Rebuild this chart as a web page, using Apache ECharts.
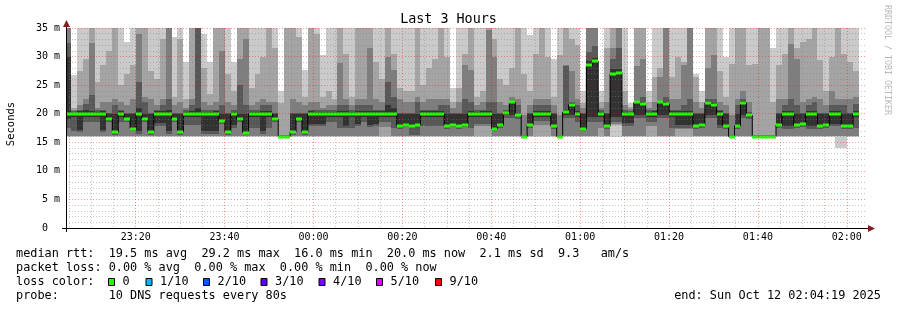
<!DOCTYPE html>
<html>
<head>
<meta charset="utf-8">
<script src="https://cdn.jsdelivr.net/npm/echarts@6/dist/echarts.min.js"></script>
<style>
html, body { margin: 0; padding: 0; background: #fff; }
#main { width: 897px; height: 310px; }
</style>
</head>
<body>
<div id="main"></div>
<script>
// time is in seconds after 23:00:00, one sample every 80 s
var tMin = 259, tMax = 11059;
var firstEnd = 324, step = 80;

var majorTicks = [1200, 2400, 3600, 4800, 6000, 7200, 8400, 9600, 10800];
var minorTicks = [300, 600, 900, 1500, 1800, 2100, 2700, 3000, 3300, 3900, 4200, 4500,
	5100, 5400, 5700, 6300, 6600, 6900, 7500, 7800, 8100, 8700, 9000, 9300, 9900, 10200, 10500];

var median = [20, 20, 20, 20, 20, 20, 20, 19.0, 16.8, 20,
	19.1, 17.4, 20, 19.0, 16.8, 20, 20, 20, 19.1, 16.8,
	20, 20, 20, 20, 20, 20, 18.7, 16.8, 20, 19.0,
	16.7, 20, 20, 20, 20, 19.0, 16.0, 16.0, 16.8, 19.1,
	16.8, 20, 20, 20, 20, 20, 20, 20, 20, 20,
	20, 20, 20, 20, 20, 20, 17.8, 18.1, 17.9, 18.1,
	20, 20, 20, 20, 17.9, 18.1, 17.8, 18.1, 20, 20,
	20, 20, 17.4, 18.0, 20.1, 22.0, 19.8, 16.0, 18.0, 20,
	20, 20, 17.8, 16.0, 20.3, 21.6, 20, 17.4, 28.5, 29.2,
	20, 17.8, 27.0, 27.2, 20, 20, 22.0, 21.7, 20, 20,
	22.0, 21.7, 20, 20, 20, 20, 17.8, 18.0, 21.9, 21.6,
	20, 17.9, 16.0, 17.9, 21.9, 19.7, 16.0, 16.0, 16.0, 16.0,
	18.0, 20, 20, 18.0, 18.2, 20, 20, 17.8, 18.0, 20,
	20, 17.9, 17.9, 20];

// sorted pings of each sample, p1 lowest ... p10 highest
var p1 = [16, 16, 16, 16, 16, 16, 16, 16, 16, 16,
	16, 16, 16, 16, 16, 16, 16, 16, 16, 16,
	16, 16, 16, 16, 16, 16, 16, 16, 16, 16,
	16, 16, 16, 16, 16, 16, 15.8, 15.8, 16, 16,
	16, 16, 16, 16, 16, 16, 16, 16, 16, 16,
	16, 16, 16, 16, 16, 16, 16, 16, 16, 16,
	16, 16, 16, 16, 16, 16, 16, 16, 16, 16,
	16, 16, 16, 16, 16, 16, 16, 15.8, 16, 16,
	16, 16, 16, 15.8, 16, 16, 16, 16, 16, 16,
	16, 16, 16, 16, 16, 16, 16, 16, 16, 16,
	16, 16, 16, 16, 16, 16, 16, 16, 16, 16,
	16, 16, 15.8, 16, 16, 16, 15.8, 15.8, 15.8, 15.8,
	16, 16, 16, 16, 16, 16, 16, 16, 16, 16,
	14.0, 14.0, 16, 16];

var p2 = [16.05, 16.05, 16.05, 16.05, 16.05, 16.05, 16.05, 16.05, 16.05, 16.05,
	16.05, 16.05, 16.05, 16.05, 16.05, 16.05, 16.05, 16.05, 16.05, 16.05,
	16.05, 16.05, 16.05, 16.05, 16.05, 16.05, 16.05, 16.05, 16.05, 16.05,
	16.05, 16.05, 16.05, 16.05, 16.05, 16.05, 15.85, 15.85, 16.05, 16.05,
	16.05, 16.05, 16.05, 16.05, 16.05, 16.05, 16.05, 16.05, 16.05, 16.05,
	16.05, 16.05, 16.05, 16.05, 16.05, 16.05, 16.05, 16.05, 16.05, 16.05,
	16.05, 16.05, 16.05, 16.05, 16.05, 16.05, 16.05, 16.05, 16.05, 16.05,
	16.05, 16.05, 16.05, 16.05, 16.05, 16.05, 16.05, 15.85, 16.05, 16.05,
	16.05, 16.05, 16.05, 15.85, 16.05, 16.05, 16.05, 16.05, 16.05, 16.05,
	16.05, 16.05, 18.0, 18.0, 16.05, 16.05, 16.05, 16.05, 16.05, 16.05,
	16.05, 16.05, 16.05, 16.05, 16.05, 16.05, 16.05, 16.05, 16.05, 16.05,
	16.05, 16.05, 15.85, 16.05, 16.05, 16.05, 15.85, 15.85, 15.85, 15.85,
	16.05, 16.05, 16.05, 16.05, 16.05, 16.05, 16.05, 16.05, 16.05, 16.05,
	16.05, 16.05, 16.05, 16.05];

var p3 = [16.1, 16.1, 16.1, 16.1, 16.1, 16.1, 16.1, 16.1, 16.1, 16.1,
	16.1, 16.1, 16.1, 16.1, 16.1, 16.1, 16.1, 16.1, 16.1, 16.1,
	16.1, 16.1, 16.1, 16.1, 16.1, 16.1, 16.1, 16.1, 16.1, 16.1,
	16.1, 16.1, 16.1, 16.1, 16.1, 16.1, 15.9, 15.9, 16.1, 16.1,
	16.1, 16.1, 16.1, 16.1, 16.1, 16.1, 16.1, 16.1, 16.1, 16.1,
	16.1, 16.1, 16.1, 17.6, 17.6, 16.1, 16.1, 16.1, 16.1, 16.1,
	16.1, 16.1, 16.1, 16.1, 16.1, 16.1, 16.1, 16.1, 16.1, 17.9,
	17.9, 17.9, 16.1, 16.1, 16.1, 16.1, 16.1, 15.9, 16.1, 18.1,
	18.1, 18.1, 16.1, 15.9, 16.1, 16.1, 16.1, 16.1, 16.1, 16.1,
	17.5, 16.1, 18.2, 18.2, 16.1, 16.1, 16.1, 16.1, 17.8, 17.8,
	16.1, 16.1, 16.1, 17.3, 17.3, 17.3, 16.1, 16.1, 16.1, 16.1,
	16.1, 16.1, 15.9, 16.1, 16.1, 16.1, 15.9, 15.9, 15.9, 15.9,
	16.1, 16.1, 16.1, 16.1, 16.1, 16.1, 16.1, 16.1, 16.1, 16.1,
	16.1, 16.1, 16.1, 16.1];

var p4 = [17.5, 17.0, 16.8, 18.6, 18.6, 18.6, 16.8, 18.5, 16.3, 18.6,
	18.6, 16.9, 16.5, 18.5, 16.3, 17.8, 17.8, 16.5, 18.6, 16.3,
	18.0, 18.0, 18.0, 16.5, 16.5, 16.5, 18.2, 16.3, 17.5, 18.5,
	16.2, 17.5, 17.5, 16.5, 17.5, 18.5, 15.95, 15.95, 16.3, 18.6,
	16.3, 17.8, 17.8, 17.8, 18.6, 18.6, 17.5, 17.5, 17.5, 17.8,
	18.6, 17.6, 17.8, 18.6, 18.6, 17.5, 17.3, 17.6, 16.2, 16.2,
	17.8, 17.8, 17.8, 17.8, 17.4, 17.6, 17.3, 17.6, 17.5, 18.2,
	18.2, 18.2, 16.9, 17.5, 19.2, 19.2, 19.0, 15.95, 17.5, 18.8,
	18.8, 18.8, 17.3, 15.95, 19.2, 19.2, 18.6, 16.9, 18.5, 18.5,
	18.6, 17.3, 18.5, 18.5, 17.8, 17.8, 19.2, 19.2, 18.6, 18.6,
	19.2, 19.2, 17.5, 17.5, 17.5, 17.5, 17.3, 17.5, 19.2, 19.2,
	17.5, 17.4, 15.95, 17.4, 19.2, 19.0, 15.95, 15.95, 15.95, 15.95,
	17.5, 17.3, 17.3, 17.5, 17.7, 17.3, 17.3, 17.3, 17.5, 17.8,
	17.8, 17.4, 17.4, 17.5];

var p5 = [19.0, 19.4, 17.2, 19.4, 19.4, 19.4, 17.2, 18.8, 16.6, 19.4,
	18.9, 17.2, 16.9, 18.8, 16.6, 18.3, 18.3, 16.9, 18.9, 16.6,
	19.4, 19.4, 19.4, 16.9, 16.9, 16.9, 18.5, 16.6, 18.0, 18.8,
	16.5, 19.4, 19.4, 16.9, 19.4, 18.8, 16.0, 16.0, 16.6, 18.9,
	16.6, 18.2, 18.2, 18.2, 19.4, 19.4, 19.4, 17.9, 19.4, 18.2,
	19.4, 18.0, 18.2, 19.4, 19.4, 19.4, 17.6, 17.9, 17.7, 17.9,
	19.4, 19.4, 19.4, 19.4, 17.7, 17.9, 17.6, 17.9, 19.4, 19.4,
	19.4, 19.4, 17.2, 17.8, 19.8, 19.8, 19.6, 16.0, 17.8, 19.4,
	19.4, 19.4, 17.6, 16.0, 19.8, 19.8, 19.4, 17.2, 19.5, 19.5,
	19.4, 17.6, 19.5, 19.5, 18.3, 18.3, 19.8, 19.8, 19.4, 19.4,
	19.8, 19.8, 19.4, 18.0, 18.0, 18.0, 17.6, 17.8, 19.8, 19.8,
	18.0, 17.7, 16.0, 17.7, 19.8, 19.5, 16.0, 16.0, 16.0, 16.0,
	17.8, 17.8, 17.8, 17.8, 18.0, 17.8, 17.8, 17.6, 17.8, 18.2,
	18.2, 17.7, 17.7, 19.4];

var p6 = [30, 20.2, 20.4, 20.6, 20.5, 20.3, 20.4, 19.9, 19.9, 20.4,
	19.9, 19.9, 21.0, 19.9, 19.9, 20.4, 20.5, 20.6, 19.9, 19.9,
	20.3, 20.4, 21.0, 20.3, 20.3, 20.4, 19.9, 19.9, 20.3, 19.9,
	19.9, 20.3, 20.3, 20.5, 20.5, 19.9, 16.1, 16.1, 19.9, 19.9,
	19.9, 20.4, 20.3, 20.3, 20.3, 20.3, 20.5, 20.4, 20.3, 20.4,
	20.4, 20.5, 20.4, 20.4, 21.5, 21.0, 19.9, 19.9, 19.9, 19.9,
	20.4, 20.4, 20.4, 20.4, 19.9, 19.9, 19.9, 19.9, 20.5, 20.3,
	20.4, 20.5, 19.9, 19.9, 20.3, 22.1, 20.0, 16.1, 19.9, 20.4,
	20.4, 20.4, 19.9, 16.1, 20.6, 21.8, 20.4, 19.9, 29.3, 29.8,
	20.3, 19.9, 27.8, 27.8, 20.3, 20.2, 22.1, 21.8, 20.3, 20.4,
	22.1, 21.8, 20.4, 20.4, 20.4, 20.5, 19.9, 19.9, 22.2, 21.9,
	20.4, 19.9, 16.1, 19.9, 22.2, 20.0, 16.1, 16.1, 16.1, 16.1,
	19.9, 20.4, 20.5, 19.9, 19.9, 20.4, 20.4, 19.9, 19.9, 20.4,
	20.4, 19.9, 19.9, 20.4];

var p7 = [32.4, 20.5, 20.7, 21.7, 23.2, 20.6, 20.7, 20.2, 21.5, 20.7,
	20.2, 20.2, 25.5, 22.0, 20.2, 20.7, 21.5, 22.5, 20.2, 20.2,
	20.6, 21.5, 40, 20.6, 20.6, 20.7, 21.5, 20.2, 20.6, 25.0,
	21.5, 20.6, 20.6, 21.5, 21.5, 20.2, 16.2, 16.2, 20.2, 20.2,
	20.2, 20.7, 20.6, 20.6, 20.6, 20.6, 21.5, 21.5, 20.6, 21.5,
	21.5, 21.5, 20.7, 20.7, 25.5, 23.0, 20.2, 20.2, 20.2, 22.0,
	20.7, 20.7, 20.7, 21.5, 21.5, 20.2, 20.2, 22.5, 22.0, 20.6,
	20.7, 22.0, 22.0, 20.2, 20.6, 22.2, 21.5, 16.2, 20.2, 21.5,
	21.5, 21.5, 20.2, 16.2, 28.4, 22.0, 21.5, 20.2, 30.8, 31.8,
	20.6, 20.2, 29.5, 31.5, 20.6, 20.5, 22.3, 23.0, 20.6, 20.7,
	22.3, 23.0, 20.7, 20.7, 21.5, 22.5, 20.2, 20.2, 22.5, 22.5,
	20.7, 20.2, 16.2, 21.5, 22.5, 20.3, 16.2, 16.2, 16.2, 16.2,
	20.2, 21.5, 22.5, 21.5, 20.2, 21.5, 22.0, 20.2, 20.2, 21.5,
	21.5, 21.5, 20.2, 21.7];

var p8 = [40, 20.7, 21.5, 22.5, 32.4, 21.0, 22.0, 22.0, 22.5, 22.0,
	21.5, 22.5, 34.0, 23.0, 22.5, 21.5, 22.5, 40, 21.5, 22.0,
	21.0, 22.5, 40, 22.0, 21.5, 22.0, 31.0, 22.0, 21.5, 29.5,
	33.0, 21.5, 22.0, 22.5, 22.0, 22.0, 16.3, 16.3, 22.5, 22.0,
	21.5, 22.0, 22.0, 21.0, 21.5, 21.5, 28.8, 22.5, 21.5, 22.5,
	22.5, 31.5, 22.5, 22.0, 30.0, 27.6, 22.5, 22.0, 22.0, 23.0,
	22.0, 22.5, 22.5, 22.5, 22.5, 21.0, 22.0, 28.5, 27.6, 21.5,
	22.0, 34.6, 30.0, 22.0, 21.5, 23.0, 22.5, 19.8, 21.5, 22.5,
	22.5, 22.5, 21.5, 19.8, 28.6, 27.4, 22.5, 21.0, 40, 40,
	21.0, 22.0, 31.5, 40, 21.5, 20.8, 28.3, 29.5, 21.0, 22.0,
	26.5, 40, 22.5, 22.5, 28.5, 40, 22.0, 21.0, 28.0, 30.3,
	22.0, 21.5, 19.8, 22.5, 24.0, 22.0, 16.3, 16.3, 16.3, 16.3,
	22.5, 22.5, 32.2, 29.5, 22.0, 22.5, 23.0, 22.5, 21.5, 23.9,
	22.5, 22.5, 22.5, 23.0];

var p9 = [40, 21.0, 27.5, 29.5, 40, 25.5, 28.5, 31.0, 38, 25.0,
	27.0, 28.5, 40, 40, 27.5, 26.0, 33.0, 40, 23.0, 33.0,
	22.5, 40, 40, 28.0, 23.5, 40, 40, 27.0, 24.0, 40,
	40, 24.5, 27.0, 30.0, 40, 31.5, 21.8, 40, 40, 33.5,
	23.0, 40, 34.0, 23.0, 24.0, 22.5, 40, 30.5, 23.0, 40,
	40, 40, 29.0, 26.0, 40, 30.5, 24.5, 24.0, 24.0, 40,
	25.0, 28.0, 29.5, 40, 30.0, 22.0, 24.5, 30.5, 40, 23.0,
	24.0, 40, 33.0, 26.0, 25.0, 28.0, 40, 27.0, 24.0, 30.5,
	40, 30.0, 23.0, 30.3, 40, 33.0, 32.0, 21.8, 40, 40,
	22.0, 31.5, 40, 40, 24.0, 21.2, 40, 40, 22.0, 26.5,
	28.0, 40, 26.5, 30.0, 29.0, 40, 26.5, 22.0, 40, 40,
	27.5, 23.0, 28.7, 40, 40, 28.5, 28.7, 40, 40, 22.0,
	28.5, 30.5, 40, 31.5, 32.5, 33.0, 40, 29.4, 23.9, 30.0,
	40, 30.5, 29.0, 27.5];

var p10 = [40, 26.8, 40, 40, 40, 40, 40, 40, 40, 40,
	32.5, 40, 40, 40, 40, 40, 40, 40, 33.5, 40,
	29.0, 40, 40, 34.0, 29.0, 40, 40, 40, 29.0, 40,
	40, 40, 40, 40, 40, 40, 24.0, 40, 40, 40,
	27.7, 40, 40, 30.3, 40, 40, 40, 40, 40, 40,
	40, 40, 40, 40, 40, 40, 40, 40, 40, 40,
	40, 40, 40, 40, 40, 24.5, 40, 40, 40, 40,
	40, 40, 40, 40, 35.0, 40, 40, 40, 33.8, 40,
	40, 40, 29.5, 40, 40, 40, 40, 24.0, 40, 40,
	24.0, 40, 40, 40, 40, 21.8, 40, 40, 24.0, 40,
	40, 40, 40, 40, 40, 40, 27.0, 24.0, 40, 40,
	40, 30.0, 40, 40, 40, 40, 40, 40, 40, 31.5,
	40, 40, 40, 40, 40, 40, 40, 40, 40, 40,
	40, 40, 40, 40];

var lossColors = [
	{label: '0', color: '#26ff00', x: 108.5},
	{label: '1/10', color: '#00b8ff', x: 146},
	{label: '2/10', color: '#0059ff', x: 203.5},
	{label: '3/10', color: '#5e00ff', x: 261},
	{label: '4/10', color: '#7e00ff', x: 319},
	{label: '5/10', color: '#dd00ff', x: 376.5},
	{label: '9/10', color: '#ff0000', x: 435.5}
];

var smokeColors = ['#cacaca', '#a4a4a4', '#7e7e7e', '#585858', '#323232'];
var mono = '"DejaVu Sans Mono", monospace';

var rows = [];
var medianLine = [];
for (var i = 0; i < median.length; i++) {
	var t0 = i === 0 ? tMin : firstEnd + step * (i - 1);
	var t1 = firstEnd + step * i;
	rows.push([t0, t1, p1[i], p2[i], p3[i], p4[i], p5[i], p6[i], p7[i], p8[i], p9[i], p10[i], median[i]]);
	medianLine.push([t0, median[i]]);
}
medianLine.push([firstEnd + step * (median.length - 1), median[median.length - 1]]);

function fmtTime(v) {
	var h = (23 + Math.floor(v / 3600)) % 24;
	var m = Math.floor((v % 3600) / 60);
	return (h < 10 ? '0' : '') + h + ':' + (m < 10 ? '0' : '') + m;
}

function renderSmoke(params, api) {
	var cs = params.coordSys;
	var top = cs.y, bottom = cs.y + cs.height;
	var xa = Math.round(api.coord([api.value(0), 0])[0]);
	var xb = Math.round(api.coord([api.value(1), 0])[0]);
	var children = [];
	for (var k = 0; k < 5; k++) {
		var yl = Math.min(bottom, Math.round(api.coord([0, api.value(2 + k)])[1]));
		var yh = Math.max(top, Math.round(api.coord([0, api.value(11 - k)])[1]));
		if (yl - yh <= 0) continue;
		children.push({
			type: 'rect',
			shape: {x: xa, y: yh, width: xb - xa, height: yl - yh},
			style: {fill: smokeColors[k]}
		});
	}
	return {type: 'group', children: children};
}

function renderMedian(params, api) {
	var xa = Math.round(api.coord([api.value(0), 0])[0]);
	var xb = Math.round(api.coord([api.value(1), 0])[0]);
	var y = Math.round(api.coord([0, api.value(12)])[1]);
	return {
		type: 'rect',
		shape: {x: xa, y: y - 1.5, width: xb - xa, height: 3},
		style: {fill: '#26ff00'}
	};
}

var graphics = [
	{type: 'text', x: 448.5, y: 19.5, style: {text: 'Last 3 Hours', font: '13.4px ' + mono, fill: '#000', align: 'center', verticalAlign: 'middle'}},
	{type: 'text', x: 11, y: 124, rotation: Math.PI / 2, style: {text: 'Seconds', font: '10.5px ' + mono, fill: '#000', align: 'center', verticalAlign: 'middle'}},
	{type: 'text', x: 887, y: 60, rotation: -Math.PI / 2, style: {text: 'RRDTOOL / TOBI OETIKER', font: '8.3px ' + mono, fill: '#b8b8b8', align: 'center', verticalAlign: 'middle'}},
	{type: 'line', z: 100, shape: {x1: 62, y1: 228.5, x2: 869, y2: 228.5}, style: {stroke: '#000', lineWidth: 1}},
	{type: 'line', z: 100, shape: {x1: 66.5, y1: 232, x2: 66.5, y2: 25}, style: {stroke: '#000', lineWidth: 1}},
	{type: 'polygon', z: 101, shape: {points: [[868, 225], [875, 228.5], [868, 232]]}, style: {fill: '#7f1f1f'}},
	{type: 'polygon', z: 101, shape: {points: [[63, 27], [66.5, 20], [70, 27]]}, style: {fill: '#7f1f1f'}},
	{type: 'text', x: 16, y: 254, style: {text: 'median rtt:  19.5 ms avg  29.2 ms max  16.0 ms min  20.0 ms now  2.1 ms sd  9.3   am/s', font: '11.85px ' + mono, fill: '#000', verticalAlign: 'middle'}},
	{type: 'text', x: 16, y: 268, style: {text: 'packet loss: 0.00 % avg  0.00 % max  0.00 % min  0.00 % now', font: '11.85px ' + mono, fill: '#000', verticalAlign: 'middle'}},
	{type: 'text', x: 16, y: 282, style: {text: 'loss color:', font: '11.85px ' + mono, fill: '#000', verticalAlign: 'middle'}},
	{type: 'text', x: 16, y: 296, style: {text: 'probe:       10 DNS requests every 80s', font: '11.85px ' + mono, fill: '#000', verticalAlign: 'middle'}},
	{type: 'text', x: 881, y: 296, style: {text: 'end: Sun Oct 12 02:04:19 2025', font: '11.85px ' + mono, fill: '#000', align: 'right', verticalAlign: 'middle'}}
];
lossColors.forEach(function (c) {
	graphics.push({type: 'rect', shape: {x: c.x, y: 278.5, width: 6, height: 7}, style: {fill: c.color, stroke: '#000', lineWidth: 1}});
	graphics.push({type: 'text', x: c.x + 14, y: 282, style: {text: c.label, font: '11.85px ' + mono, fill: '#000', verticalAlign: 'middle'}});
});

var chart = echarts.init(document.getElementById('main'), null, {renderer: 'canvas'});
chart.setOption({
	animation: false,
	backgroundColor: '#fff',
	grid: {left: 66, top: 28, width: 800, height: 200, containLabel: false},
	xAxis: [{
		type: 'value', min: tMin, max: tMax, z: 10,
		axisLine: {show: false},
		axisTick: {show: false, customValues: majorTicks},
		axisLabel: {customValues: majorTicks, formatter: fmtTime, fontFamily: mono, fontSize: 10, color: '#000', margin: 4},
		splitLine: {show: true, lineStyle: {color: 'rgba(255,0,0,0.4)', width: 1, type: [1, 2]}}
	}, {
		type: 'value', min: tMin, max: tMax, z: 9, position: 'bottom',
		axisLine: {show: false},
		axisTick: {show: false, customValues: minorTicks},
		axisLabel: {show: false},
		splitLine: {show: true, lineStyle: {color: 'rgba(128,128,128,0.45)', width: 1, type: [1, 2]}}
	}],
	yAxis: {
		type: 'value', min: 0, max: 35, interval: 5, z: 10,
		axisLine: {show: false},
		axisTick: {show: false},
		axisLabel: {
			formatter: function (v) { return v === 0 ? '0  ' : v + ' m'; },
			fontFamily: mono, fontSize: 10, color: '#000', margin: 6
		},
		splitLine: {show: true, lineStyle: {color: 'rgba(255,0,0,0.4)', width: 1, type: [1, 2]}},
		minorTick: {show: false, splitNumber: 5},
		minorSplitLine: {show: true, lineStyle: {color: 'rgba(128,128,128,0.45)', width: 1, type: [1, 2]}}
	},
	graphic: graphics,
	series: [{
		type: 'custom',
		name: 'smoke',
		renderItem: renderSmoke,
		data: rows,
		encode: {x: [0, 1], y: [2, 3, 4, 5, 6, 7, 8, 9, 10, 11, 12]},
		z: 1
	}, {
		type: 'line',
		name: 'median',
		data: medianLine,
		step: 'end',
		symbol: 'none',
		lineStyle: {color: '#000', width: 1},
		z: 2
	}, {
		type: 'custom',
		name: 'loss 0',
		renderItem: renderMedian,
		data: rows,
		encode: {x: [0, 1], y: 12},
		z: 3
	}]
});
</script>
</body>
</html>
